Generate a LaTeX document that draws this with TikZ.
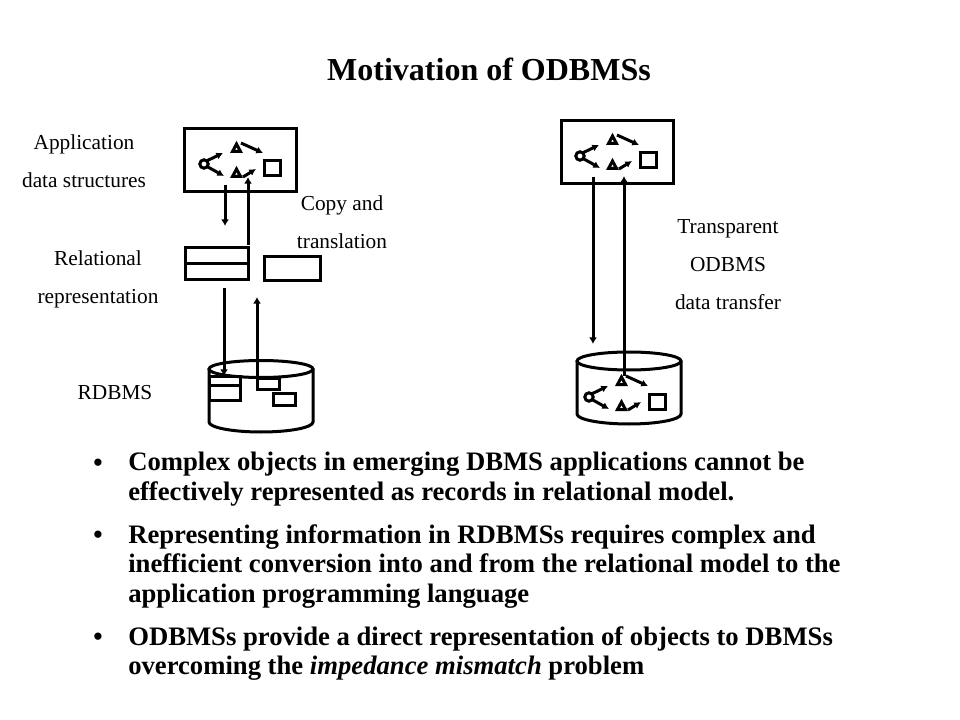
\documentclass[tikz,border=0pt]{standalone}
\usepackage{fontspec}
\setmainfont{Liberation Serif}
\usetikzlibrary{positioning}
\usetikzlibrary{arrows.meta}
\tikzset{
  box/.style={draw, line width=2.25pt, inner sep=0pt, fill=none},
  label/.style={align=center, font=\fontsize{16}{28.5}\selectfont},
  para/.style={anchor=north west, align=left, inner sep=0pt, font=\fontsize{20}{22.2}\selectfont\bfseries},
  flow/.style={line width=2.25pt, -{Latex[length=5pt,width=6pt]}},
  link/.style={line width=2.25pt, -{Latex[length=5pt,width=5.5pt]}},
  tri/.style={line width=2.25pt, line join=miter},
  pics/objects/.style={code={
    \draw[line width=2.25pt] (0,0) circle (4.2);
    \draw[link] (2.5,-3) -- (19,-11);
    \draw[link] (3,2.5) -- (20,12);
    \draw[tri] (28.5,-12.5) -- (32.5,-20) -- (36.5,-12.5) -- cycle;
    \draw[tri] (28.5,12.5) -- (32.5,5) -- (36.5,12.5) -- cycle;
    \draw[link] (37,-21) -- (59,-11);
    \draw[link] (39,13) -- (52,5);
    \draw[line width=2.25pt] (60,-3) rectangle (76,12);
  }}
}
\begin{document}
\begin{tikzpicture}[x=0.75pt, y=-0.75pt]
\useasboundingbox (0,0) rectangle (960,720);
\node[inner sep=0pt, font=\fontsize{24}{28}\selectfont\bfseries] (Title) at (489,69) {Motivation of ODBMSs};
% left column
\node[label] (AppText) at (84,161) {Application\\data structures};
\node[label] (RelText) at (98,279) {Relational\\representation};
\node[label] (CopyText) at (342,222) {Copy and\\translation};
\node[label] (RdbText) at (115,393) {RDBMS};
\node[box, minimum width=84pt, minimum height=47.25pt] (AppBox) at (240.5,160) {};
\pic at (204,164) {objects};
\node[box, minimum width=47.25pt, minimum height=12pt] (RelTop) at (216.5,256) {};
\node[box, minimum width=47.25pt, minimum height=12pt] (RelBot) at (216.5,272) {};
\node[box, minimum width=42pt, minimum height=18pt] (RelSide) at (292.5,268.5) {};
\draw[line width=2.25pt] (209,369) -- (209,422) arc[start angle=180, end angle=0, x radius=52, y radius=10] -- (313,369);
\draw[line width=2.25pt] (261,369) ellipse (52 and 8.5);
\node[box, minimum width=23.6pt, minimum height=6.75pt] (DbTop) at (225,381) {};
\node[box, minimum width=23.6pt, minimum height=11.25pt] (DbBot) at (225,393) {};
\node[box, minimum width=16.5pt, minimum height=8.25pt] (DbMid) at (268.5,384) {};
\node[box, minimum width=16.5pt, minimum height=9pt] (DbLow) at (284.5,399.5) {};
\coordinate (A1) at (225,185);
\coordinate (A2) at (225,226);
\coordinate (A3) at (248,245);
\coordinate (A4) at (248,177);
\coordinate (A5) at (224,288);
\coordinate (A6) at (224,376);
\coordinate (A7) at (257,390);
\coordinate (A8) at (257,297);
\draw[flow] (A1) -- (A2);
\draw[flow] (A3) -- (A4);
\draw[flow] (A5) -- (A6);
\draw[flow] (A7) -- (A8);
% right column
\node[label] (TransText) at (728,265) {Transparent\\ODBMS\\data transfer};
\node[box, minimum width=84pt, minimum height=47.25pt] (ObjBox) at (617,152) {};
\pic at (580,156) {objects};
\draw[line width=2.25pt] (577,361) -- (577,414) arc[start angle=180, end angle=0, x radius=52, y radius=10] -- (681,361);
\draw[line width=2.25pt] (629,361) ellipse (52 and 9);
\pic at (589,397) {objects};
\coordinate (B1) at (593,177);
\coordinate (B2) at (593,344);
\coordinate (B3) at (624,376);
\coordinate (B4) at (624,176);
\draw[flow] (B1) -- (B2);
\draw[flow] (B3) -- (B4);
% bullets
\node[para] (Dot1) at (93,459) {\textbullet};
\node[para] (Text1) at (128,452) {Complex objects in emerging DBMS applications cannot be\\effectively represented as records in relational model.};
\node[para] (Dot2) at (93,531) {\textbullet};
\node[para] (Text2) at (128,524) {Representing information in RDBMSs requires complex and\\inefficient conversion into and from the relational model to the\\application programming language};
\node[para] (Dot3) at (93,633) {\textbullet};
\node[para] (Text3) at (128,626) {ODBMSs provide a direct representation of objects to DBMSs\\overcoming the \textit{impedance mismatch} problem};
\end{tikzpicture}
\end{document}
